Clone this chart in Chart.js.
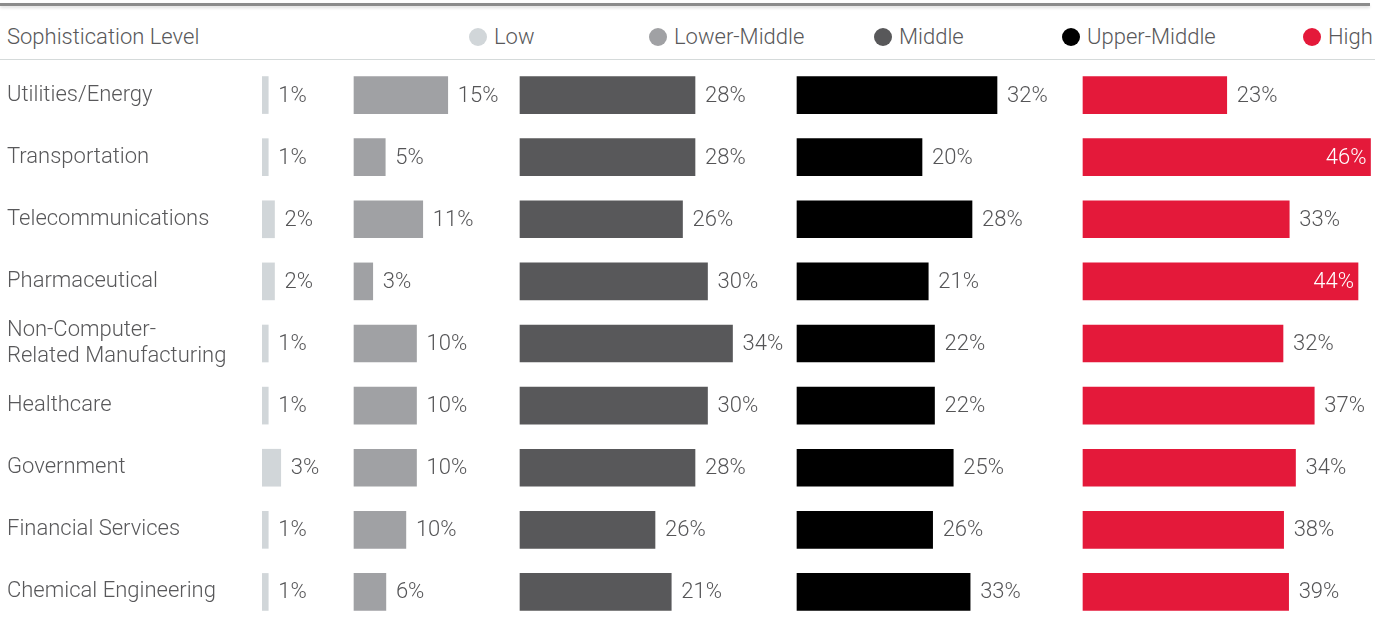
<!DOCTYPE html>
<html>
<head>
<meta charset="utf-8">
<script src="https://cdn.jsdelivr.net/npm/chart.js@4.4.1/dist/chart.umd.min.js"></script>
<style>
  html, body { margin: 0; padding: 0; background: #fff; overflow: hidden; }
  body { width: 1386px; height: 620px; position: relative; font-family: Roboto, "Open Sans", sans-serif; font-weight: 300; color: #58585a; }
  .topline { position: absolute; left: 0; top: 3px; width: 1370px; height: 3px; background: #8c8c8c; box-shadow: 0 2px 3px rgba(0,0,0,0.12); }
  .header { position: absolute; left: 0; top: 22px; width: 1386px; height: 30px; font-size: 22px; line-height: 30px; }
  .header span { position: absolute; white-space: nowrap; }
  .dot { display: inline-block; width: 18px; height: 18px; border-radius: 50%; vertical-align: -2px; margin-right: 7px; }
  .rule { position: absolute; left: 0; top: 59px; width: 1375px; height: 1px; background: #d5dada; }
  #wrap { position: absolute; left: 0; top: 60px; width: 1386px; height: 563px; }
</style>
</head>
<body>
<div class="topline"></div>
<div class="header" id="header"><span style="left:7px">Sophistication Level</span></div>
<div class="rule"></div>
<div id="wrap"><canvas id="chart"></canvas></div>
<script>
// data
const categories = [
  "Utilities/Energy",
  "Transportation",
  "Telecommunications",
  "Pharmaceutical",
  ["Non-Computer-", "Related Manufacturing"],
  "Healthcare",
  "Government",
  "Financial Services",
  "Chemical Engineering"
];
const levels = ["Low", "Lower-Middle", "Middle", "Upper-Middle", "High"];

// printed percentages
const low         = [1, 1, 2, 2, 1, 1, 3, 1, 1];
const lowerMiddle = [15, 5, 11, 3, 10, 10, 10, 10, 6];
const middle      = [28, 28, 26, 30, 34, 30, 28, 26, 21];
const upperMiddle = [32, 20, 28, 21, 22, 22, 25, 26, 33];
const high        = [23, 46, 33, 44, 32, 37, 34, 38, 39];

// bar lengths as drawn in the original (last two rows are drawn shorter/longer than printed)
const lowBar         = [1, 1, 2, 2, 1, 1, 3, 1, 1];
const lowerMiddleBar = [15, 5, 11, 3, 10, 10, 10, 8.3, 5.1];
const middleBar      = [28, 28, 26, 30, 34, 30, 28, 21.6, 24.2];
const upperMiddleBar = [32, 20, 28, 21, 22, 22, 25, 21.7, 27.7];
const highBar        = [23, 46, 33, 44, 32, 37, 34, 32.1, 32.9];

const printed = [low, lowerMiddle, middle, upperMiddle, high];
const bars = [lowBar, lowerMiddleBar, middleBar, upperMiddleBar, highBar];

// layout: where each column starts (in % units on the shared x scale)
const colStart = [0, 14.72, 41.28, 85.6, 131.36];
const colors = ["#d1d6d9", "#a0a1a4", "#58585a", "#000000", "#e4193a"];
const legendX = [469, 649, 874, 1062, 1303];

// legend in header
const header = document.getElementById("header");
levels.forEach((name, i) => {
  const s = document.createElement("span");
  s.style.left = legendX[i] + "px";
  s.innerHTML = '<i class="dot" style="background:' + colors[i] + '"></i>' + name;
  header.appendChild(s);
});

const FONT = "Roboto, 'Open Sans', sans-serif";

const valueLabels = {
  id: "valueLabels",
  afterDatasetsDraw(chart) {
    const ctx = chart.ctx;
    const right = chart.chartArea.right;
    ctx.save();
    ctx.font = "300 22px " + FONT;
    ctx.textBaseline = "middle";
    chart.data.datasets.forEach((ds, di) => {
      const meta = chart.getDatasetMeta(di);
      meta.data.forEach((bar, i) => {
        const txt = printed[di][i] + "%";
        const w = ctx.measureText(txt).width;
        if (bar.x + 10 + w > right) {
          // no room on the right: put it inside the bar
          ctx.fillStyle = "#ffffff";
          ctx.textAlign = "right";
          ctx.fillText(txt, bar.x - 4, bar.y + 1);
        } else {
          ctx.fillStyle = "#555557";
          ctx.textAlign = "left";
          ctx.fillText(txt, bar.x + 10, bar.y + 1);
        }
      });
    });
    ctx.restore();
  }
};

new Chart(document.getElementById("chart"), {
  type: "bar",
  data: {
    labels: categories,
    datasets: bars.map((vals, k) => ({
      label: levels[k],
      data: vals.map((v) => [colStart[k], colStart[k] + v]),
      backgroundColor: colors[k],
      borderWidth: 0,
      borderSkipped: false,
      barThickness: 37,
      grouped: false
    }))
  },
  options: {
    indexAxis: "y",
    responsive: true,
    maintainAspectRatio: false,
    animation: false,
    layout: { padding: { left: 7, top: 4, right: 0, bottom: 0 } },
    plugins: { legend: { display: false }, tooltip: { enabled: false } },
    scales: {
      x: { display: false, min: 0, max: 179.84 },
      y: {
        grid: { display: false },
        border: { display: false },
        ticks: {
          autoSkip: false,
          crossAlign: "far",
          color: "#58585a",
          font: { family: FONT, size: 22, weight: 300, lineHeight: 1.15 }
        },
        afterFit(scale) {
          scale.width = 255;
          scale.paddingTop = 0;
          scale.paddingBottom = 0;
        }
      }
    }
  },
  plugins: [valueLabels]
});
</script>
</body>
</html>
